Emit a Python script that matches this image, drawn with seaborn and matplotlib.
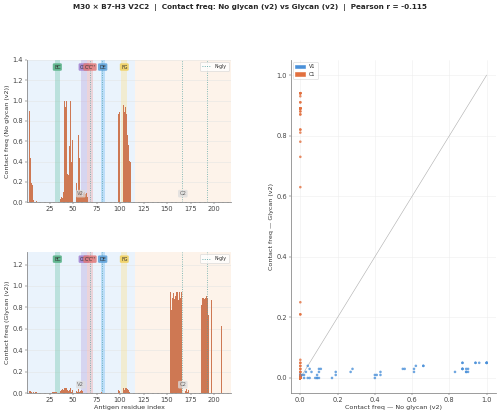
import numpy as np
import pandas as pd
import matplotlib
matplotlib.use("Agg")
import matplotlib.pyplot as plt
from matplotlib.patches import Patch
from matplotlib.lines import Line2D
from matplotlib.ticker import MultipleLocator
import seaborn as sns

# Antigen residues 1..217, V domain up to 115
N_RES = 217
V_END = 115.5

# Contact frequency per residue (only non-zero residues listed)
NOGLY_RES = [1, 2, 3, 4, 5, 6, 7, 8, 11,
             37, 38, 39, 40, 41, 42, 43, 44, 45, 46, 47, 48, 49, 50, 51,
             54, 55, 56, 57, 58, 59, 60, 61, 62, 63, 64, 65, 66, 67,
             98, 99, 100, 101, 102, 103, 104, 105, 106, 107, 108, 109, 110, 111]
NOGLY_VAL = [0.87, 0.87, 0.89, 0.90, 0.43, 0.19, 0.17, 0.02, 0.01,
             0.03, 0.05, 0.04, 0.10, 1.00, 0.94, 1.00, 0.28, 0.27, 0.55, 1.00, 0.40, 0.61, 0.62, 0.61,
             0.19, 0.09, 0.66, 0.43, 0.10, 0.11, 0.06, 0.09, 0.10, 0.08, 0.09, 0.05, 0.04, 0.02,
             0.87, 0.89, 1.00, 0.87, 0.90, 0.83, 0.96, 0.89, 0.94, 0.87, 0.66, 0.56, 0.41, 0.40]

GLY_RES = [1, 2, 3, 4, 5, 6, 8, 10, 11, 28, 29, 30, 31, 32, 33, 34, 35,
           37, 38, 39, 40, 41, 42, 43, 44, 45, 46, 47, 48, 49, 50, 51,
           54, 55, 56, 57, 58, 59, 60, 80,
           98, 99, 100, 101, 102, 103, 104, 105, 106, 107, 108, 109, 110,
           134, 135, 136,
           150, 151, 152, 153, 154, 155, 156, 157, 158, 159, 160, 161, 162, 163, 164, 165,
           166, 167, 168, 169, 170, 171, 172, 173,
           185, 186, 187, 188, 189, 190, 191, 192, 193, 194, 197, 200, 202, 208]
GLY_VAL = [0.03, 0.03, 0.02, 0.02, 0.02, 0.01, 0.01, 0.01, 0.01, 0.01, 0.01, 0.01, 0.01, 0.01, 0.01, 0.01, 0.01,
           0.02, 0.03, 0.04, 0.03, 0.05, 0.05, 0.05, 0.03, 0.02, 0.03, 0.05, 0.01, 0.03, 0.04, 0.02,
           0.02, 0.01, 0.04, 0.01, 0.02, 0.03, 0.02, 0.01,
           0.03, 0.02, 0.05, 0.05, 0.03, 0.02, 0.05, 0.03, 0.05, 0.05, 0.04, 0.03, 0.01,
           0.02, 0.89, 0.02,
           0.05, 0.21, 0.21, 0.06, 0.94, 0.78, 0.89, 0.93, 0.88, 0.91, 0.94, 0.94, 0.87, 0.94, 0.89, 0.94,
           0.82, 0.04, 0.05, 0.03, 0.02, 0.04, 0.01, 0.03,
           0.25, 0.81, 0.82, 0.89, 0.89, 0.88, 0.89, 0.91, 0.89, 0.73, 0.87, 0.89, 0.89, 0.63]

# Loop annotations and glycosylation sites
STRAND_NAMES = ["BC", "CC'", "C'C''", "DE", "FG"]
STRAND_START = [30.5, 58.5, 64.5, 79.5, 101.5]
STRAND_END = [36.0, 64.5, 71.5, 83.5, 107.5]
STRAND_FILL = ["#66c2a5", "#b39ddb", "#ef9a9a", "#64b5f6", "#ffe082"]
STRAND_BOX = ["#4fae80", "#a07fd0", "#e07878", "#5a9fd8", "#f0cf5a"]
NGLY_SITES = [68, 81, 166, 193]
REGION_LABELS = ["V2", "C2"]
SCATTER_GROUPS = ["V1", "C1"]
PEARSON_R = -0.115

BAR_COLOR = "#e2703f"
PALETTE = {"V1": "#4a90d9", "C1": "#e2703f"}
NGLY_COLOR = "#4f9f9f"

res = np.arange(1, N_RES + 1)
nogly = np.zeros(N_RES)
nogly[np.array(NOGLY_RES) - 1] = NOGLY_VAL
gly = np.zeros(N_RES)
gly[np.array(GLY_RES) - 1] = GLY_VAL

df = pd.DataFrame({
    "res": res,
    "nogly": nogly,
    "gly": gly,
    "region": np.where(res <= V_END, SCATTER_GROUPS[0], SCATTER_GROUPS[1]),
})

sns.set_style("ticks")
plt.rcParams["font.family"] = ["DejaVu Sans"]


def style_spines(ax):
    sns.despine(ax=ax)
    for side in ("left", "bottom"):
        ax.spines[side].set_color("#888888")
        ax.spines[side].set_linewidth(1.4)
    ax.tick_params(labelsize=11.5, colors="#444444", length=3.5)


def draw_profile(ax, col, ylabel, xlabel=None):
    ymax = df[col].max() * 1.4
    x_lo, x_hi = 1.0, N_RES + 1.0
    ax.axvspan(x_lo, V_END, color="#eaf3fc", lw=0, zorder=0)
    ax.axvspan(V_END, x_hi, color="#fdf3ea", lw=0, zorder=0)
    for name, s, e, c, bc in zip(STRAND_NAMES, STRAND_START, STRAND_END, STRAND_FILL, STRAND_BOX):
        ax.axvspan(s, e, color=c, alpha=0.35, lw=0, zorder=1)
        ax.text((s + e) / 2, ymax * 0.95, name, ha="center", va="center", fontsize=8.5,
                color="#333333", zorder=6,
                bbox=dict(boxstyle="round,pad=0.25", fc=bc, ec="none", alpha=0.85))
    ax.yaxis.grid(True, color="#e4e4e4", lw=0.9, zorder=0.5)
    ax.set_axisbelow(True)

    sns.barplot(data=df, x="res", y=col, native_scale=True, color=BAR_COLOR,
                width=0.8, linewidth=0, errorbar=None, ax=ax, zorder=3)

    for site in NGLY_SITES:
        ax.axvline(site, color=NGLY_COLOR, ls=":", lw=1.5, alpha=0.85, zorder=4)

    for name, cx in zip(REGION_LABELS, [(x_lo + V_END) / 2, (V_END + x_hi) / 2]):
        ax.text(cx, ymax * 0.06, name, ha="center", va="center", fontsize=9,
                color="#666666", zorder=6,
                bbox=dict(boxstyle="round,pad=0.25", fc="#dddddd", ec="none", alpha=0.75))

    handle = Line2D([], [], color=NGLY_COLOR, ls=":", lw=1.5)
    ax.legend([handle], ["N-gly"], loc="upper right", fontsize=8, frameon=True,
              handlelength=2.0, borderpad=0.4)

    ax.set_xlim(x_lo, x_hi)
    ax.set_ylim(0, ymax)
    ax.xaxis.set_minor_locator(MultipleLocator(5))
    ax.yaxis.set_major_locator(MultipleLocator(0.2))
    ax.set_xticks([25, 50, 75, 100, 125, 150, 175, 200])
    ax.set_ylabel(ylabel, fontsize=11, color="#333333")
    ax.set_xlabel(xlabel if xlabel else "", fontsize=11, color="#333333")
    style_spines(ax)


fig = plt.figure(figsize=(12, 9.984), dpi=500 / 12)
ax_top = fig.add_axes([0.054, 0.514, 0.408, 0.342])
ax_bot = fig.add_axes([0.054, 0.055, 0.408, 0.339])
ax_sc = fig.add_axes([0.582, 0.055, 0.410, 0.801])

draw_profile(ax_top, "nogly", "Contact freq (No glycan (v2))")
draw_profile(ax_bot, "gly", "Contact freq (Glycan (v2))", "Antigen residue index")

# Scatter: no glycan vs glycan
ax_sc.grid(True, color="#ececec", lw=0.9)
ax_sc.set_axisbelow(True)
ax_sc.plot([0, 1], [0, 1], color="#b0b0b0", lw=1.0, zorder=1)
sns.scatterplot(data=df, x="nogly", y="gly", hue="region", hue_order=SCATTER_GROUPS,
                palette=PALETTE, s=20, alpha=0.8, edgecolor="none", legend=False,
                ax=ax_sc, zorder=3)
ax_sc.set_xlim(-0.05, 1.05)
ax_sc.set_ylim(-0.05, 1.05)
ax_sc.xaxis.set_major_locator(MultipleLocator(0.2))
ax_sc.yaxis.set_major_locator(MultipleLocator(0.2))
ax_sc.set_xlabel("Contact freq — No glycan (v2)", fontsize=11, color="#333333")
ax_sc.set_ylabel("Contact freq — Glycan (v2)", fontsize=11, color="#333333")
ax_sc.legend(handles=[Patch(color=PALETTE[g], label=g) for g in SCATTER_GROUPS],
             loc="upper left", fontsize=8.5, frameon=True, handlelength=2.0)
style_spines(ax_sc)

fig.suptitle(f"M30 × B7-H3 V2C2  |  Contact freq: No glycan (v2) vs Glycan (v2)  |  Pearson r = {PEARSON_R}",
             fontsize=12.5, fontweight="bold", y=0.983, va="center")

plt.savefig("out.png", dpi=500 / 12)
